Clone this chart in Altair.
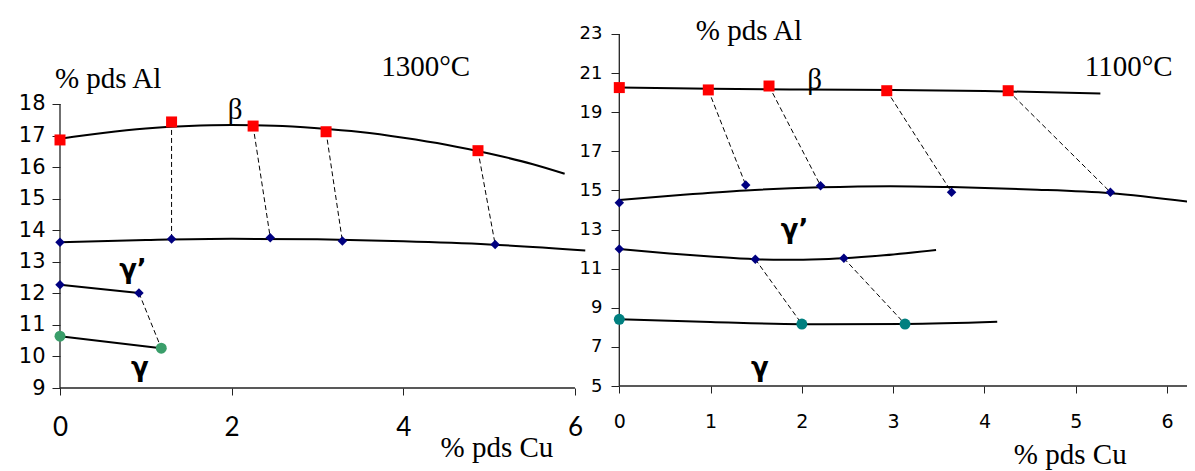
import altair as alt
import pandas as pd

# ---------------- 1300 °C panel (left) ----------------
b13_x = [0, 1.30, 2.25, 3.10, 4.87]
b13_y = [16.86, 17.43, 17.30, 17.12, 16.52]
g13_x = [0, 1.30, 2.45, 3.29, 5.07]
g13_y = [13.62, 13.72, 13.76, 13.66, 13.55]
gl13_x = [0, 0.92]
gl13_y = [12.27, 12.01]
gm13_x = [0, 1.18]
gm13_y = [10.64, 10.26]
# boundary curves
b13c_x = [0, 0.5, 1.0, 1.5, 2.0, 2.5, 3.0, 3.5, 4.0, 4.5, 5.0, 5.5, 5.88]
b13c_y = [16.90, 17.08, 17.22, 17.30, 17.33, 17.31, 17.23, 17.11, 16.93, 16.71, 16.43, 16.10, 15.79]
g13c_x = [0, 1, 2, 3, 4, 5, 6.12]
g13c_y = [13.62, 13.69, 13.73, 13.71, 13.65, 13.55, 13.36]

# ---------------- 1100 °C panel (right) ----------------
b11_x = [0, 0.975, 1.64, 2.93, 4.26]
b11_y = [20.26, 20.14, 20.34, 20.10, 20.10]
g11_x = [0, 1.385, 2.205, 3.64, 5.38]
g11_y = [14.37, 15.28, 15.24, 14.91, 14.91]
gl11_x = [0, 1.49, 2.46]
gl11_y = [12.01, 11.48, 11.53]
gm11_x = [0, 2.00, 3.13]
gm11_y = [8.41, 8.17, 8.17]
b11c_x = [0, 1, 2, 3, 4, 5.27]
b11c_y = [20.27, 20.20, 20.16, 20.13, 20.09, 19.96]
g11c_x = [0, 0.7, 1.385, 2.2, 2.97, 3.64, 4.5, 5.38, 6.3]
g11c_y = [14.51, 14.78, 15.00, 15.16, 15.22, 15.17, 15.05, 14.86, 14.39]
gl11c_x = [0, 0.55, 1.0, 1.49, 1.8, 2.1, 2.46, 2.9, 3.47]
gl11c_y = [12.01, 11.78, 11.62, 11.48, 11.45, 11.47, 11.53, 11.68, 11.95]
gm11c_x = [0, 1, 2, 3.13, 4.14]
gm11c_y = [8.41, 8.27, 8.16, 8.17, 8.28]

left_xticks = [0, 2, 4, 6]
left_yticks = [9, 10, 11, 12, 13, 14, 15, 16, 17, 18]
right_xticks = [0, 1, 2, 3, 4, 5, 6]
right_yticks = [5, 7, 9, 11, 13, 15, 17, 19, 21, 23]

W, H = 1127, 370
# scale domains chosen so that both panels share one plot rectangle
L_XD = [0, 13.131]
L_YD = [9, 20.724]
R_XD = [-6.127, 6.219]
R_YD = [4.898, 23.818]


def curve_df(pairs):
    rows = []
    for cid, (xs, ys) in enumerate(pairs):
        for i, (a, b) in enumerate(zip(xs, ys)):
            rows.append({"c": cid, "o": i, "x": a, "y": b})
    return pd.DataFrame(rows)


def seg_df(segs):
    return pd.DataFrame([{"x": a, "y": b, "x2": c, "y2": d} for a, b, c, d in segs])


def pts_df(xs, ys):
    return pd.DataFrame({"x": xs, "y": ys})


def sx(dom, axis=None):
    return alt.X("x:Q", scale=alt.Scale(domain=dom, zero=False, nice=False), axis=axis)


def sy(dom, axis=None):
    return alt.Y("y:Q", scale=alt.Scale(domain=dom, zero=False, nice=False), axis=axis)


AX_COLOR = "#222222"


def panel(xd, yd, xaxis, yaxis, axis_segs, curves, ties, sq, dia, circ, circ_color,
          labels, blabels):
    layers = []
    layers.append(
        alt.Chart(seg_df(axis_segs)).mark_rule(color=AX_COLOR, strokeWidth=1.3).encode(
            x=sx(xd, xaxis), y=sy(yd, yaxis), x2="x2:Q", y2="y2:Q"))
    layers.append(
        alt.Chart(curve_df(curves)).mark_line(color="black", strokeWidth=2,
                                              interpolate="monotone").encode(
            x=sx(xd), y=sy(yd), detail="c:N", order="o:Q"))
    layers.append(
        alt.Chart(seg_df(ties)).mark_rule(color="black", strokeWidth=1,
                                          strokeDash=[5, 3]).encode(
            x=sx(xd), y=sy(yd), x2="x2:Q", y2="y2:Q"))
    layers.append(
        alt.Chart(pts_df(*sq)).mark_point(shape="square", filled=True, size=121,
                                          color="#FF0000", opacity=1).encode(
            x=sx(xd), y=sy(yd)))
    layers.append(
        alt.Chart(pts_df(*dia)).mark_point(shape="diamond", filled=True, size=90,
                                           color="#000080", opacity=1).encode(
            x=sx(xd), y=sy(yd)))
    layers.append(
        alt.Chart(pts_df(*circ)).mark_point(shape="circle", filled=True, size=120,
                                            color=circ_color, opacity=1).encode(
            x=sx(xd), y=sy(yd)))
    layers.append(
        alt.Chart(pd.DataFrame(labels)).mark_text(font="Liberation Serif", fontSize=29,
                                                  color="black", baseline="middle",
                                                  align="center").encode(
            x=sx(xd), y=sy(yd), text="t:N"))
    layers.append(
        alt.Chart(pd.DataFrame(blabels)).mark_text(font="DejaVu Sans", fontSize=26,
                                                   fontWeight="bold", color="black",
                                                   baseline="middle",
                                                   align="center").encode(
            x=sx(xd), y=sy(yd), text="t:N"))
    return layers


common_axis = dict(domain=False, grid=False, ticks=True, tickColor=AX_COLOR, tickWidth=1,
                   labelColor="black", title=None, labelFlush=False, labelOverlap=False,
                   labelBound=False)

left = panel(
    L_XD, L_YD,
    alt.Axis(values=left_xticks, orient="bottom", tickSize=7, labelFont="Lato",
             labelFontSize=26, labelPadding=19, format="d", **common_axis),
    alt.Axis(values=left_yticks, orient="left", tickSize=8, labelFont="DejaVu Sans",
             labelFontSize=21, labelPadding=7, format="d", **common_axis),
    [(0, 9, 0, 18), (0, 9, 6, 9)],
    [(b13c_x, b13c_y), (g13c_x, g13c_y), (gl13_x, gl13_y), (gm13_x, gm13_y)],
    [(b13_x[i], b13_y[i], g13_x[i], g13_y[i]) for i in range(1, 5)]
    + [(gl13_x[1], gl13_y[1], gm13_x[1], gm13_y[1])],
    (b13_x, b13_y), (g13_x + gl13_x, g13_y + gl13_y), (gm13_x, gm13_y), "#3A9E6A",
    {"x": [0.56, 4.26, 2.04, 5.09], "y": [18.79, 19.17, 17.81, 7.10],
     "t": ["% pds Al", "1300°C", "β", "% pds Cu"]},
    {"x": [0.85, 0.93], "y": [12.74, 9.63], "t": ["γ’", "γ"]},
)

right = panel(
    R_XD, R_YD,
    alt.Axis(values=right_xticks, orient="bottom", offset=-2, tickSize=7,
             labelFont="DejaVu Sans", labelFontSize=19, labelPadding=19, format="d",
             **common_axis),
    alt.Axis(values=right_yticks, orient="left", offset=-559, tickSize=8,
             labelFont="DejaVu Sans", labelFontSize=18, labelPadding=9, format="d",
             **common_axis),
    [(0, 5, 0, 23), (0, 5, 6.3, 5)],
    [(b11c_x, b11c_y), (g11c_x, g11c_y), (gl11c_x, gl11c_y), (gm11c_x, gm11c_y)],
    [(b11_x[i], b11_y[i], g11_x[i], g11_y[i]) for i in range(1, 5)]
    + [(gl11_x[i], gl11_y[i], gm11_x[i], gm11_y[i]) for i in range(1, 3)],
    (b11_x, b11_y), (g11_x + gl11_x, g11_y + gl11_y), (gm11_x, gm11_y), "#008080",
    {"x": [1.42, 2.14, 5.58, 4.94], "y": [23.15, 20.65, 21.31, 1.45],
     "t": ["% pds Al", "β", "1100°C", "% pds Cu"]},
    {"x": [1.92, 1.54], "y": [12.98, 5.92], "t": ["γ’", "γ"]},
)

chart = alt.layer(*left, *right).resolve_scale(
    x="independent", y="independent"
).properties(
    width=W, height=H,
    autosize=alt.AutoSizeParams(type="none"),
    padding={"left": 52, "top": 10, "right": 0, "bottom": 83},
).configure_view(stroke=None)

chart.save("out.html", embed_options={"renderer": "svg", "actions": False})
